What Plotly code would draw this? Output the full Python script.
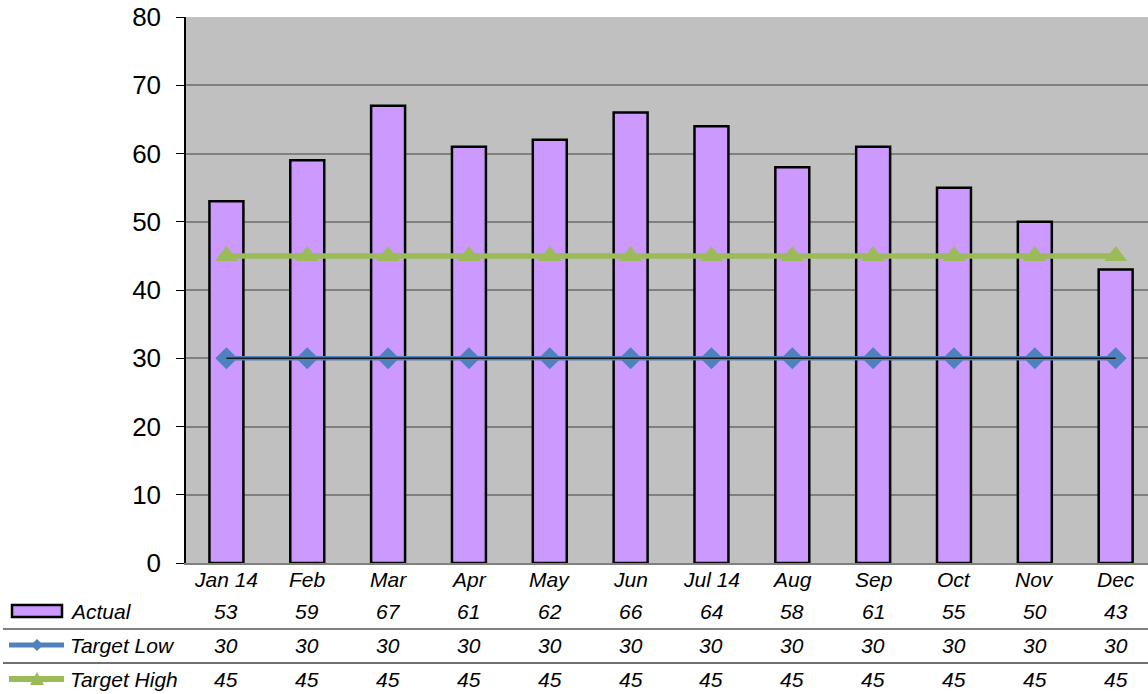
import plotly.graph_objects as go

categories = ["Jan 14", "Feb", "Mar", "Apr", "May", "Jun", "Jul 14", "Aug", "Sep", "Oct", "Nov", "Dec"]
actual = [53, 59, 67, 61, 62, 66, 64, 58, 61, 55, 50, 43]
target_low = [30, 30, 30, 30, 30, 30, 30, 30, 30, 30, 30, 30]
target_high = [45, 45, 45, 45, 45, 45, 45, 45, 45, 45, 45, 45]
y_ticks = [0, 10, 20, 30, 40, 50, 60, 70, 80]

W, H = 1148, 694
L, R, T, B = 186, 0, 17, 131
PW = W - L - R
PH = H - T - B

def px(X):
    return (X - L) / PW

def py(Y):
    return (H - B - Y) / PH

PURPLE = "#CC99FF"
BLUE = "#4F81BD"
GREEN = "#9BBB59"
FONT = "Liberation Sans, Arial, sans-serif"
TS = 21

idx = list(range(len(categories)))

fig = go.Figure()
fig.add_trace(go.Bar(x=idx, y=actual, name="Actual", width=0.42,
                     marker=dict(color=PURPLE, line=dict(color="black", width=2.5)),
                     showlegend=False))
fig.add_trace(go.Scatter(x=idx, y=target_low, name="Target Low", mode="lines+markers",
                         line=dict(color=BLUE, width=4.5),
                         marker=dict(symbol="diamond", size=17, color=BLUE),
                         showlegend=False))
fig.add_trace(go.Scatter(x=idx, y=target_low, mode="lines",
                         line=dict(color="#1a1a1a", width=1.3),
                         showlegend=False, hoverinfo="skip"))
fig.add_trace(go.Scatter(x=idx, y=target_high, name="Target High", mode="lines+markers",
                         line=dict(color=GREEN, width=5.5),
                         marker=dict(symbol="triangle-up", size=20, color=GREEN),
                         showlegend=False))

annotations = []
shapes = []
tfont = dict(family=FONT, size=TS, color="black", style="italic")

# category labels (first table row)
for i, c in enumerate(categories):
    annotations.append(dict(x=i, y=py(579), xref="x", yref="paper", text=c,
                            showarrow=False, xanchor="center", yanchor="middle", font=tfont))

rows = [("Actual", actual, 611), ("Target Low", target_low, 645), ("Target High", target_high, 679)]
for name, vals, Y in rows:
    annotations.append(dict(x=px(68), y=py(Y), xref="paper", yref="paper", text=name,
                            showarrow=False, xanchor="left", yanchor="middle", font=tfont))
    for i, v in enumerate(vals):
        annotations.append(dict(x=i, y=py(Y), xref="x", yref="paper", text=str(v),
                                showarrow=False, xanchor="center", yanchor="middle", font=tfont))

# table separator lines
shapes.append(dict(type="line", xref="paper", yref="paper", x0=px(3), x1=px(1148),
                   y0=py(629), y1=py(629), line=dict(color="#808080", width=2)))
shapes.append(dict(type="line", xref="paper", yref="paper", x0=px(3), x1=px(1148),
                   y0=py(663), y1=py(663), line=dict(color="#404040", width=1.5)))

# legend keys
shapes.append(dict(type="rect", xref="paper", yref="paper", x0=px(12), x1=px(62),
                   y0=py(617), y1=py(605), fillcolor=PURPLE, line=dict(color="black", width=2.5)))
shapes.append(dict(type="line", xref="paper", yref="paper", x0=px(9), x1=px(64),
                   y0=py(645), y1=py(645), line=dict(color=BLUE, width=5)))
dx, dy = 6, 6
shapes.append(dict(type="path", xref="paper", yref="paper",
                   path=f"M {px(37)},{py(645-dy)} L {px(37+dx)},{py(645)} L {px(37)},{py(645+dy)} L {px(37-dx)},{py(645)} Z",
                   fillcolor=BLUE, line=dict(width=0)))
shapes.append(dict(type="line", xref="paper", yref="paper", x0=px(9), x1=px(64),
                   y0=py(679), y1=py(679), line=dict(color=GREEN, width=6)))
shapes.append(dict(type="path", xref="paper", yref="paper",
                   path=f"M {px(37)},{py(672)} L {px(44)},{py(685)} L {px(30)},{py(685)} Z",
                   fillcolor=GREEN, line=dict(width=0)))

fig.update_layout(
    width=W, height=H,
    margin=dict(l=L, r=R, t=T, b=B, pad=0),
    paper_bgcolor="white", plot_bgcolor="#C0C0C0",
    annotations=annotations, shapes=shapes,
    showlegend=False,
    xaxis=dict(range=[-0.5, 11.4], tickmode="array", tickvals=idx, ticktext=categories,
               showticklabels=False,
               showgrid=False, showline=True, linecolor="#808080", linewidth=1.5,
               ticks="", zeroline=False, fixedrange=True),
    yaxis=dict(range=[0, 80], tickmode="array", tickvals=y_ticks,
               showgrid=True, gridcolor="#808080", gridwidth=1.5,
               showline=True, linecolor="black", linewidth=1.5,
               ticks="outside", ticklen=8, tickcolor="black",
               ticklabelstandoff=10,
               tickfont=dict(family=FONT, size=26, color="black"),
               zeroline=False, fixedrange=True),
)

fig.write_html("out.html", config={"displayModeBar": False},
               post_script="document.body.style.margin='0';document.body.style.overflow='hidden';")
